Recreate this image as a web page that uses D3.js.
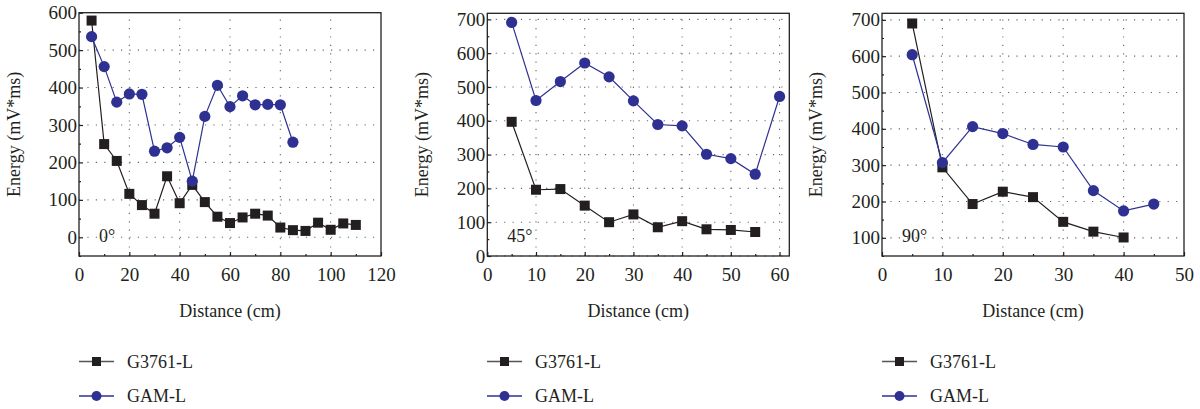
<!DOCTYPE html>
<html>
<head>
<meta charset="utf-8">
<script src="https://cdn.jsdelivr.net/npm/d3@7"></script>
<style>
  html, body { margin: 0; padding: 0; background: #fff; }
  svg { display: block; }
  svg text { font-family: "Liberation Serif", "Times New Roman", Times, serif; }
</style>
</head>
<body>
<svg id="chart" width="1200" height="409"></svg>
<script>
// distances (cm) and energy values (mV*ms) per panel
const dist0G = [5, 10, 15, 20, 25, 30, 35, 40, 45, 50, 55, 60, 65, 70, 75, 80, 85, 90, 95, 100, 105, 110];
const energy0G = [579, 249, 204, 116, 86, 63, 163, 91, 140, 94, 55, 38, 53, 63, 58, 26, 19, 17, 39, 20, 37, 33];
const dist0A = [5, 10, 15, 20, 25, 30, 35, 40, 45, 50, 55, 60, 65, 70, 75, 80, 85];
const energy0A = [536, 456, 361, 383, 382, 230, 239, 267, 150, 323, 406, 349, 378, 354, 355, 354, 254];

const dist45G = [5, 10, 15, 20, 25, 30, 35, 40, 45, 50, 55];
const energy45G = [397, 196, 198, 149, 100, 123, 85, 103, 79, 77, 71];
const dist45A = [5, 10, 15, 20, 25, 30, 35, 40, 45, 50, 55, 60];
const energy45A = [691, 460, 516, 571, 530, 459, 389, 385, 301, 288, 242, 472];

const dist90G = [5, 10, 15, 20, 25, 30, 35, 40];
const energy90G = [690, 294, 193, 227, 212, 144, 117, 101];
const dist90A = [5, 10, 15, 20, 25, 30, 35, 40, 45];
const energy90A = [604, 307, 406, 387, 357, 350, 230, 174, 193];

const xTicks0 = [0, 20, 40, 60, 80, 100, 120];
const yTicks0 = [0, 100, 200, 300, 400, 500, 600];
const xTicks45 = [0, 10, 20, 30, 40, 50, 60];
const yTicks45 = [0, 100, 200, 300, 400, 500, 600, 700];
const xTicks90 = [0, 10, 20, 30, 40, 50];
const yTicks90 = [100, 200, 300, 400, 500, 600, 700];

const seriesNames = ['G3761-L', 'GAM-L'];
const angleLabels = ['0°', '45°', '90°'];

const ink = '#231f20';
const blue = '#2e3192';
const fontSize = 18;
const tickFontSize = 19;

const panels = [
  { left: 79, right: 381, top: 12.7, bottom: 256, xDom: [0, 120], yDom: [-50, 600],
    xTicks: xTicks0, yTicks: yTicks0, xMinor: 10, yMinor: 50,
    g: [dist0G, energy0G], a: [dist0A, energy0A], angle: angleLabels[0], ylabX: 20, legX: 79 },
  { left: 487.3, right: 789.3, top: 13.3, bottom: 256, xDom: [0, 62], yDom: [0, 718],
    xTicks: xTicks45, yTicks: yTicks45, xMinor: 5, yMinor: 50,
    g: [dist45G, energy45G], a: [dist45A, energy45A], angle: angleLabels[1], ylabX: 428, legX: 487 },
  { left: 882, right: 1184, top: 13.3, bottom: 256, xDom: [0, 50], yDom: [50, 718],
    xTicks: xTicks90, yTicks: yTicks90, xMinor: 5, yMinor: 50,
    g: [dist90G, energy90G], a: [dist90A, energy90A], angle: angleLabels[2], ylabX: 822, legX: 882 }
];

const svg = d3.select('#chart');

const range = (lo, hi, step) => {
  const out = [];
  for (let v = Math.ceil(lo / step) * step; v <= hi + 1e-9; v += step) out.push(v);
  return out;
};

panels.forEach(p => {
  const x = d3.scaleLinear().domain(p.xDom).range([p.left, p.right]);
  const y = d3.scaleLinear().domain(p.yDom).range([p.bottom, p.top]);
  const g = svg.append('g');

  // dotted grid
  g.append('g').selectAll('line')
    .data(p.yTicks.filter(t => y(t) > p.top + 1))
    .enter().append('line')
    .attr('x1', p.left).attr('x2', p.right)
    .attr('y1', d => y(d)).attr('y2', d => y(d))
    .attr('stroke', '#666').attr('stroke-width', 1.1)
    .attr('stroke-dasharray', '1.2,7.2');
  g.append('g').selectAll('line')
    .data(p.xTicks.filter(t => x(t) > p.left + 1 && x(t) < p.right - 1))
    .enter().append('line')
    .attr('x1', d => x(d)).attr('x2', d => x(d))
    .attr('y1', p.bottom).attr('y2', p.top)
    .attr('stroke', '#666').attr('stroke-width', 1.1)
    .attr('stroke-dasharray', '1.2,7.2');

  // frame
  g.append('rect')
    .attr('x', p.left).attr('y', p.top)
    .attr('width', p.right - p.left).attr('height', p.bottom - p.top)
    .attr('fill', 'none').attr('stroke', ink).attr('stroke-width', 1.3);

  // axes with inward ticks
  const xAxis = g.append('g')
    .attr('transform', `translate(0,${p.bottom})`)
    .call(d3.axisBottom(x).tickValues(p.xTicks).tickSize(-4).tickPadding(12).tickFormat(d3.format('d')));
  const xMinorAxis = g.append('g')
    .attr('transform', `translate(0,${p.bottom})`)
    .call(d3.axisBottom(x).tickValues(range(p.xDom[0], p.xDom[1], p.xMinor).filter(v => !p.xTicks.includes(v)))
      .tickSize(-2).tickFormat(''));
  const yAxis = g.append('g')
    .attr('transform', `translate(${p.left},0)`)
    .call(d3.axisLeft(y).tickValues(p.yTicks).tickSize(-4).tickPadding(-1).tickFormat(d3.format('d')));
  const yMinorAxis = g.append('g')
    .attr('transform', `translate(${p.left},0)`)
    .call(d3.axisLeft(y).tickValues(range(p.yDom[0], p.yDom[1], p.yMinor).filter(v => !p.yTicks.includes(v)))
      .tickSize(-2).tickFormat(''));

  [xAxis, xMinorAxis, yAxis, yMinorAxis].forEach(ax => {
    ax.select('.domain').remove();
    ax.attr('font-family', null).attr('font-size', null);
    ax.selectAll('line').attr('stroke', ink).attr('stroke-width', 1.2);
    ax.selectAll('text').attr('fill', ink).attr('font-size', tickFontSize);
  });
  yAxis.selectAll('text').attr('x', -2);

  // axis titles
  g.append('text')
    .attr('x', (p.left + p.right) / 2).attr('y', 317)
    .attr('text-anchor', 'middle').attr('font-size', fontSize).attr('fill', ink)
    .text('Distance (cm)');
  g.append('text')
    .attr('transform', `translate(${p.ylabX},${(p.top + p.bottom) / 2}) rotate(-90)`)
    .attr('text-anchor', 'middle').attr('font-size', fontSize).attr('fill', ink)
    .text('Energy (mV*ms)');

  // angle annotation
  g.append('text')
    .attr('x', p.left + 20).attr('y', y(p.yDom[0]) - 14)
    .attr('font-size', fontSize).attr('fill', ink)
    .text(p.angle);

  const line = d3.line().x(d => x(d[0])).y(d => y(d[1]));
  const gData = d3.zip(p.g[0], p.g[1]);
  const aData = d3.zip(p.a[0], p.a[1]);

  // G3761-L
  g.append('path').datum(gData)
    .attr('d', line).attr('fill', 'none').attr('stroke', ink).attr('stroke-width', 1.2);
  g.append('g').selectAll('rect').data(gData).enter().append('rect')
    .attr('x', d => x(d[0]) - 5).attr('y', d => y(d[1]) - 5)
    .attr('width', 10).attr('height', 10).attr('fill', ink);

  // GAM-L
  g.append('path').datum(aData)
    .attr('d', line).attr('fill', 'none').attr('stroke', blue).attr('stroke-width', 1.2);
  g.append('g').selectAll('circle').data(aData).enter().append('circle')
    .attr('cx', d => x(d[0])).attr('cy', d => y(d[1]))
    .attr('r', 5.6).attr('fill', blue);

  // legend
  const leg = g.append('g').attr('transform', `translate(${p.legX},0)`);
  const rows = [
    { name: seriesNames[0], y: 361.5, color: ink, lineColor: '#555', shape: 'square' },
    { name: seriesNames[1], y: 396, color: blue, lineColor: blue, shape: 'circle' }
  ];
  rows.forEach(r => {
    leg.append('line').attr('x1', 0).attr('x2', 35).attr('y1', r.y).attr('y2', r.y)
      .attr('stroke', r.lineColor).attr('stroke-width', 1.4);
    if (r.shape === 'square') {
      leg.append('rect').attr('x', 17.5 - 4.5).attr('y', r.y - 4.5)
        .attr('width', 9).attr('height', 9).attr('fill', r.color);
    } else {
      leg.append('circle').attr('cx', 17.5).attr('cy', r.y).attr('r', 5).attr('fill', r.color);
    }
    leg.append('text').attr('x', 48).attr('y', r.y + 6)
      .attr('font-size', fontSize).attr('fill', ink).text(r.name);
  });
});
</script>
</body>
</html>
